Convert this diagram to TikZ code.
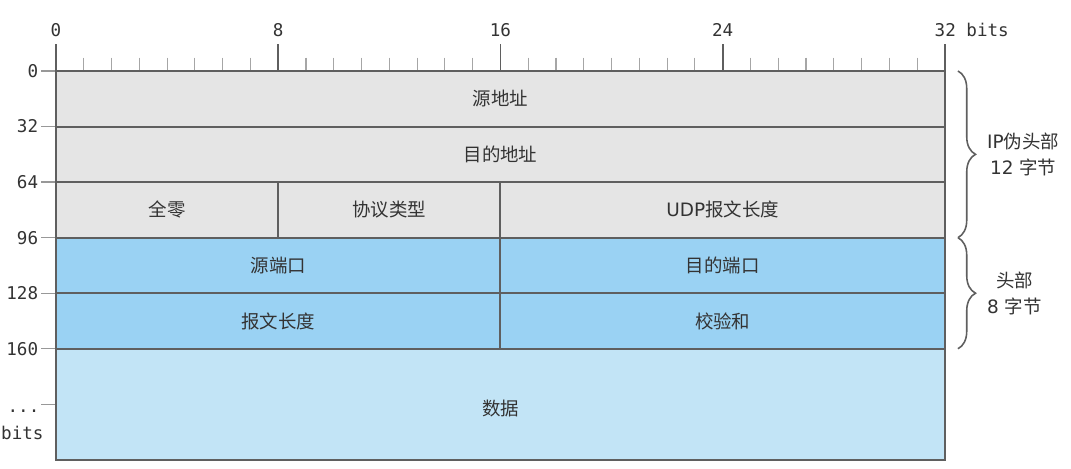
\documentclass[tikz,border=0pt]{standalone}
\usepackage{fontspec}
\setmainfont{DejaVu Sans}
\setmonofont{DejaVu Sans Mono}
\newfontfamily\cjk{Noto Sans CJK SC}
\usepackage{xcolor}
\usetikzlibrary{decorations.pathreplacing}

\definecolor{hdrgray}{HTML}{E5E5E5}
\definecolor{udpblue}{HTML}{9AD2F3}
\definecolor{datablue}{HTML}{C2E4F6}
\definecolor{linegray}{HTML}{5F5F5F}
\definecolor{tickgray}{HTML}{A6A6A6}
\definecolor{textgray}{HTML}{333333}

\begin{document}
\begin{tikzpicture}[x=0.5556cm, y=-1.1111cm,
    frame/.style={draw=linegray, line width=1.1pt},
    majortick/.style={draw=linegray, line width=1pt},
    minortick/.style={draw=tickgray, line width=0.6pt},
    lefttick/.style={draw=tickgray!80!linegray, line width=0.8pt},
    bitlab/.style={anchor=base, inner sep=0pt, text=textgray, font=\ttfamily\fontsize{10}{12}\selectfont},
    rowlab/.style={anchor=east, inner sep=0pt, text=textgray, font=\ttfamily\fontsize{10}{12}\selectfont},
    field/.style={text=textgray, font=\fontsize{10.5}{12}\selectfont},
    side/.style={anchor=west, inner sep=0pt, align=center, text=textgray, font=\fontsize{10.5}{14.5}\selectfont},
    bracegray/.style={draw=linegray, line width=0.9pt, decorate, decoration={brace, amplitude=10pt}}]
  \useasboundingbox (-2.016,-1.278) rectangle (36.54,7.164);

  % cell backgrounds
  \fill[hdrgray] (0,0) rectangle (32,3);
  \fill[udpblue] (0,3) rectangle (32,5);
  \fill[datablue] (0,5) rectangle (32,7);

  % top ruler
  \foreach \b in {1,...,31}
    \draw[minortick] (\b,-0.243) -- (\b,0);
  \foreach \b in {0,8,16,24}
    \draw[majortick] (\b,-0.486) -- (\b,0) node[bitlab] (b\b) at (\b,-0.63) {\b};
  \draw[majortick] (32,-0.486) -- (32,0);
  \node[bitlab, anchor=base west] (b32) at (31.62,-0.63) {32 bits};

  % left ruler
  \foreach \r/\lab in {0/0,1/32,2/64,3/96,4/128,5/160}{
    \draw[lefttick] (-0.54,\r) -- (0,\r);
    \node[rowlab] (r\r) at (-0.63,\r) {\lab};
  }
  \draw[lefttick] (-0.54,6) -- (0,6);
  \node[bitlab] (rdots) at (-1.17,6.14) {...};
  \node[bitlab] (rbits) at (-1.21,6.64) {bits};

  % frame and field borders
  \draw[frame] (0,-0.486) -- (0,7) -- (32,7) -- (32,-0.486);
  \foreach \r in {0,...,5}
    \draw[frame] (0,\r) -- (32,\r);
  \draw[frame] (8,2) -- (8,3);
  \draw[frame] (16,2) -- (16,5);

  % fields
  \node[field] (src) at (16,0.5) {\cjk 源地址};
  \node[field] (dst) at (16,1.5) {\cjk 目的地址};
  \node[field] (zero) at (4,2.5) {\cjk 全零};
  \node[field] (proto) at (12,2.5) {\cjk 协议类型};
  \node[field] (ulen) at (24,2.5) {UDP{\cjk 报文长度}};
  \node[field] (sport) at (8,3.5) {\cjk 源端口};
  \node[field] (dport) at (24,3.5) {\cjk 目的端口};
  \node[field] (len) at (8,4.5) {\cjk 报文长度};
  \node[field] (csum) at (24,4.5) {\cjk 校验和};
  \node[field] (data) at (16,6.07) {\cjk 数据};

  % braces
  \draw[bracegray] (32.47,0) -- (32.47,3);
  \draw[bracegray] (32.47,3) -- (32.47,5);
  \node[side] (pseudo) at (33.51,1.5) {IP{\cjk 伪头部}\\12 {\cjk 字节}};
  \node[side] (hdr) at (33.51,4) {{\cjk 头部}\\8 {\cjk 字节}};
\end{tikzpicture}
\end{document}
